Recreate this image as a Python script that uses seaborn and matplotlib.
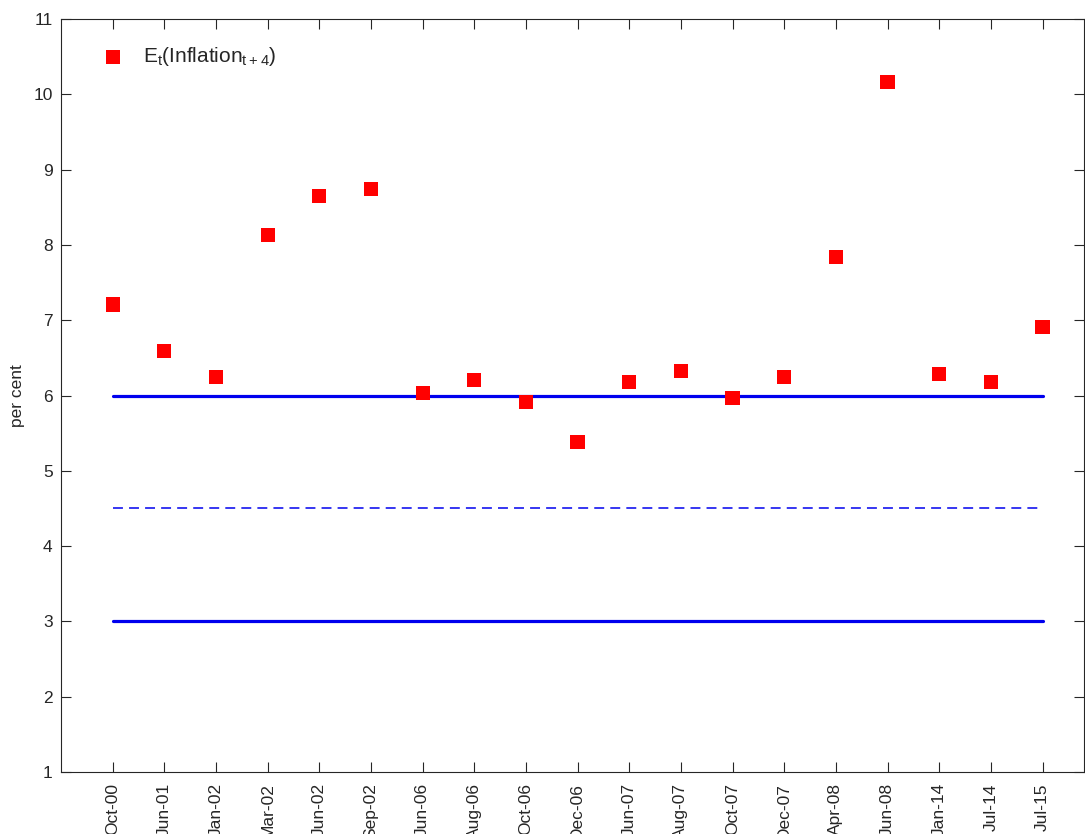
import numpy as np
import pandas as pd
import matplotlib
matplotlib.use("Agg")
import matplotlib.pyplot as plt
import seaborn as sns

# Survey dates and expected inflation four quarters ahead (per cent)
dates = ["Oct-00", "Jun-01", "Jan-02", "Mar-02", "Jun-02", "Sep-02", "Jun-06",
         "Aug-06", "Oct-06", "Dec-06", "Jun-07", "Aug-07", "Oct-07", "Dec-07",
         "Apr-08", "Jun-08", "Jan-14", "Jul-14", "Jul-15"]
expected = [7.21, 6.59, 6.25, 8.13, 8.65, 8.74, 6.03, 6.21, 5.91, 5.38, 6.18,
            6.33, 5.97, 6.25, 7.84, 10.16, 6.29, 6.18, 6.91]

# Target band and midpoint
band_lower = 3.0
band_upper = 6.0
band_mid = 4.5

yticks = list(range(1, 12))

sns.set_theme(style="white")
plt.rcParams["font.family"] = ["Liberation Sans", "DejaVu Sans"]
plt.rcParams["mathtext.default"] = "regular"

df = pd.DataFrame({"date": dates, "value": expected})
df["pos"] = np.arange(1, len(dates) + 1)

fig = plt.figure(figsize=(10.85, 8.34), dpi=100)
ax = fig.add_axes([0.0562, 0.0743, 0.9428, 0.9029])

x0, x1 = df["pos"].min(), df["pos"].max()
ax.plot([x0, x1], [band_upper, band_upper], color="#0000ee", lw=2.3, zorder=2)
ax.plot([x0, x1], [band_lower, band_lower], color="#0000ee", lw=2.3, zorder=2)
ax.plot([x0, x1], [band_mid, band_mid], color="#0000ee", lw=1.1,
        ls=(0, (6.5, 4.0)), zorder=2)

sns.scatterplot(data=df, x="pos", y="value", ax=ax, marker="s", s=105,
                color="#ff0000", edgecolor="none", zorder=3,
                label=r"$E_t(Inflation_{t+4})$")

ax.set_xlim(0, 19.8)
ax.set_ylim(1, 11)
ax.set_xticks(df["pos"])
ax.set_xticklabels(dates, rotation=90, fontsize=12.5, color="#262626")
ax.set_yticks(yticks)
ax.set_yticklabels([str(v) for v in yticks], fontsize=12.5, color="#262626")
ax.set_xlabel("")
ax.set_ylabel("per cent", fontsize=12.5, color="#262626", labelpad=6)

ax.tick_params(axis="both", which="both", direction="in", length=7, width=0.8,
               color="#262626", top=True, right=True, bottom=True, left=True)
ax.tick_params(axis="x", pad=8)
ax.tick_params(axis="y", pad=6)
for sp in ax.spines.values():
    sp.set_visible(True)
    sp.set_color("#262626")
    sp.set_linewidth(0.8)

leg = ax.legend(loc="upper left", frameon=False, fontsize=15,
                bbox_to_anchor=(0.012, 0.99), handletextpad=0.45,
                markerscale=1.0)

fig.savefig("out.png", dpi=100)
